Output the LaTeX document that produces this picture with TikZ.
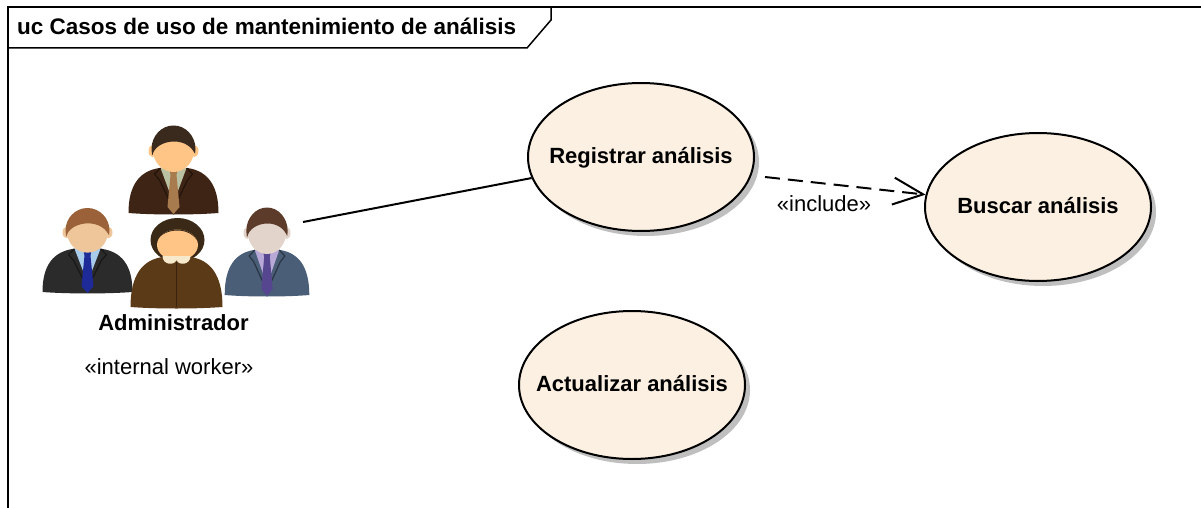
\documentclass[tikz,border=0pt]{standalone}
\usepackage{fontspec}
\setmainfont{Liberation Sans}
\usetikzlibrary{arrows.meta,shadows,shapes.geometric}

\definecolor{ucfill}{RGB}{251,240,226}
% figure palette
\definecolor{topbody}{RGB}{62,36,21}
\definecolor{topshirt}{RGB}{186,192,162}
\definecolor{toptie}{RGB}{168,123,79}
\definecolor{warmface}{RGB}{255,197,134}
\definecolor{tophair}{RGB}{58,42,30}
\definecolor{leftbody}{RGB}{43,43,43}
\definecolor{leftshirt}{RGB}{169,203,235}
\definecolor{lefttie}{RGB}{30,42,152}
\definecolor{leftface}{RGB}{239,197,154}
\definecolor{lefthair}{RGB}{155,98,57}
\definecolor{rightbody}{RGB}{74,94,120}
\definecolor{rightshirt}{RGB}{184,168,216}
\definecolor{righttie}{RGB}{85,70,143}
\definecolor{rightface}{RGB}{227,212,203}
\definecolor{righthair}{RGB}{92,59,43}
\definecolor{womanbody}{RGB}{91,58,23}
\definecolor{womanhair}{RGB}{58,41,23}
\definecolor{womancollar}{RGB}{246,233,204}
\definecolor{womanzip}{RGB}{58,36,16}

% a man in a suit; origin at the bottom centre of the body
% #1 body, #2 shirt, #3 tie, #4 face, #5 hair
\newcommand\drawsuitman[5]{%
  \fill[#1] (-45,0) .. controls (-45,-28) and (-34,-42) .. (-14,-45) -- (14,-45)
    .. controls (34,-42) and (45,-28) .. (45,0)
    .. controls (20,2) and (-20,2) .. (-45,0) -- cycle;
  \fill[#2] (-13,-45) -- (13,-45) -- (0,-10) -- cycle;
  \draw[#1!55!black, line width=1.2pt] (-13,-45) -- (-19,-39) -- (-14,-33) -- (-1,-6);
  \draw[#1!55!black, line width=1.2pt] (13,-45) -- (19,-39) -- (14,-33) -- (1,-6);
  \fill[#3] (-4,-43) -- (4,-43) -- (3,-38) -- (6,-6) -- (0,1) -- (-6,-6) -- (-3,-38) -- cycle;
  \fill[#4] (-8,-52) rectangle (8,-44);
  \fill[#4] (-21,-62) ellipse (4 and 6);
  \fill[#4] (21,-62) ellipse (4 and 6);
  \fill[#4] (0,-63) ellipse (20.5 and 22);
  \begin{scope}
    \clip (0,-64) ellipse (22 and 23.5);
    \fill[#5] (-25,-56) -- (-21,-58) .. controls (-18,-73) and (12,-78) .. (21,-60)
      -- (25,-56) -- (25,-95) -- (-25,-95) -- cycle;
  \end{scope}
}

% a woman with a bob cut; origin at the bottom centre of the body
\newcommand\drawbobwoman{%
  \fill[womanhair] (1,-67) ellipse (27 and 22);
  \fill[warmface] (1,-62) ellipse (20.5 and 15.5);
  \begin{scope}
    \clip (1,-62) ellipse (20.5 and 15.5);
    \fill[womanhair] (-22,-62) .. controls (-16,-80) and (14,-82) .. (22,-64)
      -- (24,-90) -- (-22,-90) -- cycle;
  \end{scope}
  \fill[womanbody] (-46,0) .. controls (-46,-32) and (-34,-47) .. (-14,-50) -- (14,-50)
    .. controls (34,-47) and (46,-32) .. (46,0)
    .. controls (20,2) and (-20,2) .. (-46,0) -- cycle;
  \draw[womanzip, line width=1.5pt] (0,-45) -- (0,0);
  \fill[womancollar] (-14,-51) .. controls (-14,-42) and (-2,-41) .. (0,-47)
    .. controls (2,-41) and (14,-42) .. (14,-51) -- cycle;
}

\tikzset{
  frameline/.style={line width=1.5pt, draw=black},
  usecase/.style={ellipse, draw=black, line width=2pt, fill=ucfill,
    minimum width=226pt, minimum height=148pt, inner sep=0pt,
    font=\bfseries\fontsize{22}{26}\selectfont, text height=12pt, text depth=0pt,
    drop shadow={shadow xshift=5pt, shadow yshift=-5pt, fill=black!25, opacity=1}},
  assoc/.style={line width=2pt},
  incl/.style={line width=2pt, dash pattern=on 15pt off 8pt,
    -{Straight Barb[length=30pt,width=27pt]}},
  boldtext/.style={font=\bfseries\fontsize{22}{26}\selectfont, inner sep=0pt},
  plaintext/.style={font=\fontsize{22}{26}\selectfont, inner sep=0pt},
}

\begin{document}
\begin{tikzpicture}[x=1pt,y=-1pt]
  \useasboundingbox (0,0) rectangle (1201,508);
  \fill[white] (0,0) rectangle (1201,508);

  % diagram frame and name tab
  \draw[frameline] (8,508) -- (8,7) -- (1201,7);
  \draw[frameline] (8,7) -- (551,7) -- (551,20) -- (527,48) -- (8,48);
  \node[boldtext, anchor=base west, font=\bfseries\fontsize{22.5}{26}\selectfont]
    (title) at (17,35) {uc Casos de uso de mantenimiento de análisis};

  % actor icon: four people
  \begin{scope}[shift={(173.5,213)}]
    \drawsuitman{topbody}{topshirt}{toptie}{warmface}{tophair}
  \end{scope}
  \begin{scope}[shift={(87.5,292)}, yscale=0.96]
    \drawsuitman{leftbody}{leftshirt}{lefttie}{leftface}{lefthair}
  \end{scope}
  \begin{scope}[shift={(267,295)}, xscale=0.94]
    \drawsuitman{rightbody}{rightshirt}{righttie}{rightface}{righthair}
  \end{scope}
  \begin{scope}[shift={(176.5,307)}]
    \drawbobwoman
  \end{scope}

  \node[boldtext, anchor=base] (admin) at (173.5,330) {Administrador};
  \node[plaintext, anchor=base] (stereo) at (169,374) {«internal worker»};
  \coordinate (adminport) at (303,222);

  % use cases
  \node[usecase] (reg) at (641,157) {\makebox[0pt]{Registrar análisis}};
  \node[usecase] (busc) at (1038,207) {\makebox[0pt]{Buscar análisis}};
  \node[usecase] (act) at (632,385) {\makebox[0pt]{Actualizar análisis}};

  % relations
  \draw[assoc] (adminport) -- (reg);
  \coordinate (incstart) at (765,177);
  \draw[incl] (incstart) -- (busc);
  \node[plaintext] (incl) at (824,204) {«include»};
\end{tikzpicture}
\end{document}
